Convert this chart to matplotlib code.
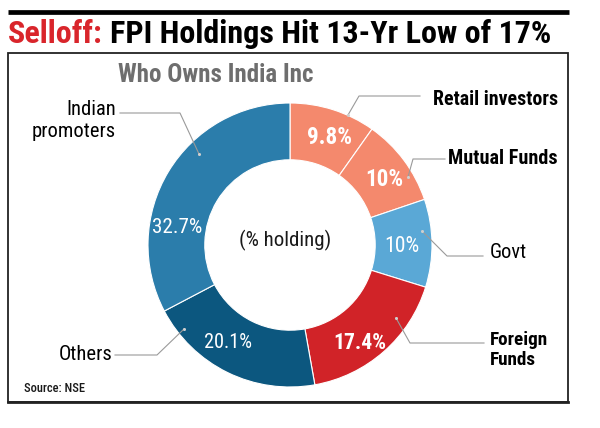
import matplotlib
matplotlib.use("Agg")
import matplotlib.pyplot as plt
from matplotlib import font_manager
from matplotlib.patches import Rectangle

# Donnees
categories = ["Retail investors", "Mutual Funds", "Govt", "Foreign\nFunds", "Others", "Indian\npromoters"]
holdings = [9.8, 10, 10, 17.4, 20.1, 32.7]
pct_labels = ["9.8%", "10%", "10%", "17.4%", "20.1%", "32.7%"]
pct_bold = [True, True, False, True, False, False]
name_bold = [True, True, False, True, False, False]
colors = ["#F4896D", "#F4896D", "#5AA8D6", "#D12328", "#0C577F", "#2B7DAB"]


# polices etroites (une grasse, une normale) si disponibles
def poids(w):
    if isinstance(w, str):
        return font_manager.weight_dict.get(w, 400)
    return w


cond = [f for f in font_manager.fontManager.ttflist
        if ("Narrow" in f.name or "Condensed" in f.name) and f.style == "normal"]
gras = sorted({f.name for f in cond if poids(f.weight) >= 700})
norm = sorted({f.name for f in cond if 400 <= poids(f.weight) < 600})


def choisir(liste):
    for pref in ["Roboto Condensed", "Liberation Sans Narrow", "Open Sans Condensed",
                 "DejaVu Sans Condensed"]:
        if pref in liste:
            return [pref]
    return liste[:1]


fam_b = choisir(gras) + ["Liberation Sans", "DejaVu Sans"]
fam_r = choisir(norm) + ["Liberation Sans", "DejaVu Sans"]

W, H = 600, 428
fig = plt.figure(figsize=(W / 100, H / 100), dpi=100)
renderer = fig.canvas.get_renderer()

# donut : centre (290, 245), rayon 142 px
cx, cy, R = 290, 245, 142
ax = fig.add_axes([(cx - R) / W, (H - cy - R) / H, 2 * R / W, 2 * R / H])
ax.pie(holdings, colors=colors, startangle=90, counterclock=False, radius=1,
       wedgeprops=dict(width=0.4, edgecolor="white", linewidth=0.8))
ax.set_xlim(-1, 1)
ax.set_ylim(-1, 1)
ax.axis("off")
ax.set_zorder(1)

# axe de dessus en pixels (textes, traits)
bg = fig.add_axes([0, 0, 1, 1])
bg.set_xlim(0, W)
bg.set_ylim(H, 0)
bg.axis("off")
bg.set_zorder(2)


def put(x, y, s, w, size, bold=False, weight=None, **kw):
    # texte reduit jusqu'a la largeur w (pixels)
    if weight is None:
        weight = "bold" if bold else "normal"
    t = bg.text(x, y, s, fontsize=size, family=fam_b if bold else fam_r,
                fontweight=weight, **kw)
    wpx = t.get_window_extent(renderer).width
    if wpx > w:
        t.set_fontsize(size * w / wpx)
    return t


# titre
bg.plot([8, 569], [11.5, 11.5], color="black", lw=3.4, solid_capstyle="butt")
t2 = put(112, 43, "FPI Holdings Hit 13-Yr Low of 17%", 441, 28, bold=True, weight=900,
         color="black", va="baseline", ha="left")
t1 = bg.text(8, 43, "Selloff:", color="#D9252B", fontsize=t2.get_fontsize(),
             fontweight=900, family=fam_b, va="baseline", ha="left")
x1 = bg.transData.inverted().transform((t1.get_window_extent(renderer).x1, 0))[0]
t2.set_x(x1 + 7)

# cadre
bg.add_patch(Rectangle((7.5, 52.5), 560.5, 349, fill=False, ec="#222222", lw=1.3))
bg.plot([8, 568], [402, 402], color="#222222", lw=2.0)

put(118, 75, "Who Owns India Inc", 204, 18, bold=True, weight=900, color="#6E6E6E",
    va="center", ha="left")
put(285, 240, "(% holding)", 94, 15, color="#1a1a1a", va="center", ha="center")
put(24, 389, "Source: NSE", 61, 10, weight="medium", color="#1a1a1a",
    va="center", ha="left")

# pourcentages dans l'anneau
pct_pos = [(329, 138), (384, 179), (402, 246), (360, 343), (228, 343), (177, 227)]
pct_w = [45, 38, 35, 53, 48, 50]
for (x, y), lab, b, w in zip(pct_pos, pct_labels, pct_bold, pct_w):
    put(x, y, lab, w, 17, bold=b, color="white", va="center", ha="center")

# etiquettes et traits de rappel
name_pos = [(433, 99, "left"), (448, 158, "left"), (490, 252, "left"),
            (490, 350, "left"), (113, 355, "right"), (116, 120, "right")]
name_w = [124, 109, 37, 58, 54, 84]
leaders = [
    [(420, 96), (359, 96), (348, 115)],
    [(445, 159), (413, 159), (408, 177)],
    [(483, 256), (447, 256), (422, 231)],
    [(484, 343), (410, 343), (396, 318)],
    [(115, 355), (157, 355), (184, 329)],
    [(120, 113), (180, 113), (199, 154)],
]
for (x, y, ha), lab, b, w in zip(name_pos, categories, name_bold, name_w):
    put(x, y, lab, w, 16, bold=b, color="black", va="center", ha=ha, linespacing=1.2)
for pts in leaders:
    xs = [p[0] for p in pts]
    ys = [p[1] for p in pts]
    bg.plot(xs, ys, color="#9a9a9a", lw=0.8)
    bg.plot(xs[-1], ys[-1], "o", ms=2.2, color="#cfcfcf", mec="none")

fig.savefig("out.png", dpi=100)
